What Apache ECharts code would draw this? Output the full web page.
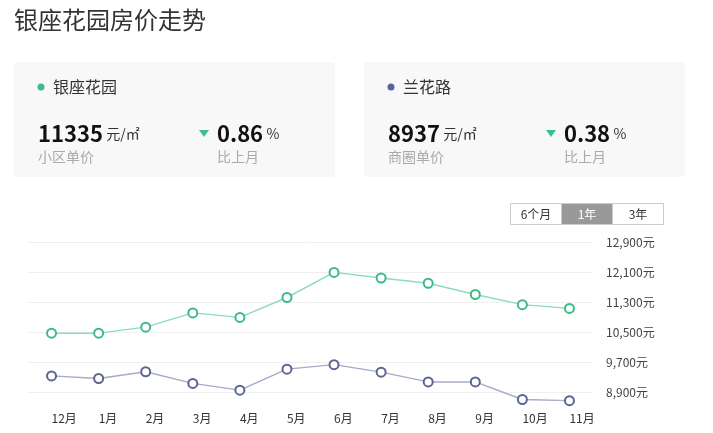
<!DOCTYPE html>
<html lang="zh">

<head>
    <meta charset="UTF-8">
    <title>银座花园房价走势</title>
    <script src="https://cdn.jsdelivr.net/npm/echarts@6/dist/echarts.min.js"></script>
    <style>
        * {
            margin: 0;
            padding: 0
        }

        html,
        body {
            width: 713px;
            height: 433px;
            background: #fff;
        }
    </style>
</head>

<body>
    <div id="main" style="width:713px;height:433px"></div>

    <script>
        var months = ['12月', '1月', '2月', '3月', '4月', '5月', '6月', '7月', '8月', '9月', '10月', '11月'];
        var yinzuo = [10470, 10470, 10630, 11010, 10890, 11420, 12090, 11940, 11800, 11500, 11230, 11130];
        var lanhua = [9330, 9260, 9440, 9130, 8950, 9510, 9630, 9430, 9170, 9170, 8700, 8670];
        var yTicks = { min: 8900, max: 12900, step: 800 };

        var font = '"Noto Sans CJK SC", "Noto Sans", sans-serif';
        var green = '#3dba88';
        var blue = '#5c6592';

        function card(x, dotColor, name, price, priceLabel, x2, pct) {
            return [{
                type: 'rect',
                shape: { x: x, y: 62, width: 321, height: 115, r: 3 },
                style: { fill: '#f8f8f8' }
            }, {
                type: 'circle',
                shape: { cx: x + 27, cy: 87, r: 3.5 },
                style: { fill: dotColor }
            }, {
                type: 'text',
                x: x + 39, y: 87,
                style: { text: name, font: '16px ' + font, fill: '#333', verticalAlign: 'middle' }
            }, {
                type: 'text',
                x: x + 24, y: 145,
                style: {
                    text: '{v|' + price + '} {u|元/㎡}',
                    verticalAlign: 'bottom',
                    rich: {
                        v: { font: 'bold 22px ' + font, fill: '#111' },
                        u: { font: '14px ' + font, fill: '#333' }
                    }
                }
            }, {
                type: 'text',
                x: x + 24, y: 157,
                style: { text: priceLabel, font: '14px ' + font, fill: '#aaa', verticalAlign: 'middle' }
            }, {
                type: 'polygon',
                shape: { points: [[x2 - 18, 130], [x2 - 8, 130], [x2 - 13, 137]] },
                style: { fill: '#3cc08a' }
            }, {
                type: 'text',
                x: x2, y: 145,
                style: {
                    text: '{v|' + pct + '} {u|%}',
                    verticalAlign: 'bottom',
                    rich: {
                        v: { font: 'bold 22px ' + font, fill: '#111' },
                        u: { font: '14px ' + font, fill: '#333' }
                    }
                }
            }, {
                type: 'text',
                x: x2, y: 157,
                style: { text: '比上月', font: '14px ' + font, fill: '#aaa', verticalAlign: 'middle' }
            }];
        }

        function button(x, w, label, active) {
            return [{
                type: 'rect',
                shape: { x: x, y: 203.5, width: w, height: 21 },
                style: { fill: active ? '#999' : '#fff', stroke: '#ccc', lineWidth: 1 }
            }, {
                type: 'text',
                x: x + w / 2, y: 214,
                style: {
                    text: label, font: '12px ' + font, fill: active ? '#fff' : '#333',
                    align: 'center', verticalAlign: 'middle'
                }
            }];
        }

        var graphics = [].concat(
            [{
                type: 'text',
                x: 14, y: 20,
                style: { text: '银座花园房价走势', font: '24px ' + font, fill: '#333', verticalAlign: 'middle' }
            }],
            card(14, '#3dba88', '银座花园', '11335', '小区单价', 217, '0.86'),
            card(364, '#5566a8', '兰花路', '8937', '商圈单价', 564, '0.38'),
            button(510.5, 51, '6个月', false),
            button(561.5, 51, '1年', true),
            button(612.5, 51, '3年', false)
        );

        var chart = echarts.init(document.getElementById('main'));
        chart.setOption({
            animation: false,
            textStyle: { fontFamily: font },
            graphic: graphics,
            grid: { left: 28, right: 120, top: 242, bottom: 41 },
            xAxis: {
                type: 'category',
                data: months,
                boundaryGap: true,
                axisLine: { show: false },
                axisTick: { show: false },
                axisLabel: { color: '#333', fontSize: 12, margin: 20, align: 'left' }
            },
            yAxis: {
                type: 'value',
                position: 'right',
                min: yTicks.min,
                max: yTicks.max,
                interval: yTicks.step,
                axisLine: { show: false },
                axisTick: { show: false },
                splitLine: { lineStyle: { color: '#f0f0f0' } },
                axisLabel: {
                    color: '#444', fontSize: 12, margin: 13,
                    formatter: function (v) { return v.toLocaleString('en-US') + '元'; }
                }
            },
            series: [{
                name: '银座花园',
                type: 'line',
                data: yinzuo,
                clip: false,
                symbol: 'emptyCircle',
                symbolSize: 9,
                lineStyle: { color: '#8fdcb9', width: 1.5 },
                itemStyle: { color: green, borderColor: green, borderWidth: 2 }
            }, {
                name: '兰花路',
                type: 'line',
                data: lanhua,
                clip: false,
                symbol: 'emptyCircle',
                symbolSize: 9,
                lineStyle: { color: '#a8aac6', width: 1.5 },
                itemStyle: { color: blue, borderColor: blue, borderWidth: 2 }
            }]
        });
    </script>
</body>

</html>
